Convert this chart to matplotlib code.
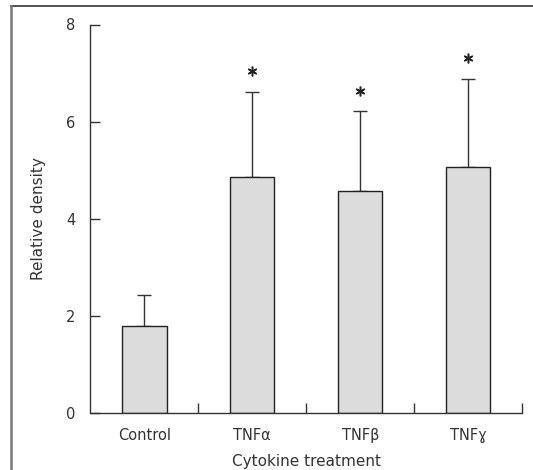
import matplotlib
matplotlib.use("Agg")
import matplotlib.pyplot as plt
from matplotlib.lines import Line2D

categories = ["Control", "TNFα", "TNFβ", "TNFɣ"]
means = [1.80, 4.87, 4.58, 5.07]
sd = [0.64, 1.75, 1.64, 1.81]
significant = [False, True, True, True]
yticks = [0, 2, 4, 6, 8]

plt.rcParams['font.family'] = ['DejaVu Sans']

W, H = 533, 470
fig = plt.figure(figsize=(W / 100, H / 100), dpi=100)
ax = fig.add_axes([90.5 / W, 1 - 413 / H, (522 - 90.5) / W, (413 - 24.5) / H])

x = list(range(len(categories)))
ax.bar(x, means, width=0.41, color="#dcdcdc", edgecolor="#222222", linewidth=1.0, zorder=2)
ax.errorbar(x, means, yerr=[[0] * len(sd), sd], fmt="none", ecolor="#333333",
            elinewidth=1.0, capsize=5, capthick=1.0, zorder=1)
sx = [xi for xi, s in zip(x, significant) if s]
sy = [m + s + 0.42 for m, s, sig in zip(means, sd, significant) if sig]
ax.plot(sx, sy, linestyle="none", marker=(6, 2, 0), markersize=7, markeredgewidth=1.1,
        color="#222222", clip_on=False)

ax.set_xlim(-0.5, 3.5)
ax.set_ylim(0, 8)
ax.set_yticks(yticks)
ax.set_yticklabels([str(t) for t in yticks], fontsize=10.5, color="#333333")
ax.set_xticks([0.5, 1.5, 2.5, 3.5], minor=False)
ax.set_xticklabels([])
ax.set_xticks(x, minor=True)
ax.set_xticklabels(categories, minor=True, fontsize=10.5, color="#333333")
ax.tick_params(axis="x", which="minor", length=0, pad=11)
ax.tick_params(axis="x", which="major", direction="in", length=7, width=1, color="#333333")
ax.tick_params(axis="y", direction="in", length=7, width=1, color="#333333", pad=11)
for sp in ["top", "right"]:
    ax.spines[sp].set_visible(False)
for sp in ["left", "bottom"]:
    ax.spines[sp].set_color("#333333")
    ax.spines[sp].set_linewidth(1.0)

ax.set_ylabel("Relative density", fontsize=11, labelpad=14, color="#333333")
ax.set_xlabel("Cytokine treatment", fontsize=11, labelpad=8, color="#333333")

fig.add_artist(Line2D([10.5 / W, 1.0], [1 - 5.5 / H, 1 - 5.5 / H], transform=fig.transFigure,
                      color="#333333", linewidth=1.2))
fig.add_artist(Line2D([10.5 / W, 10.5 / W], [0, 1 - 5.5 / H], transform=fig.transFigure,
                      color="#777777", linewidth=1.8))

fig.savefig("out.png", dpi=100)
